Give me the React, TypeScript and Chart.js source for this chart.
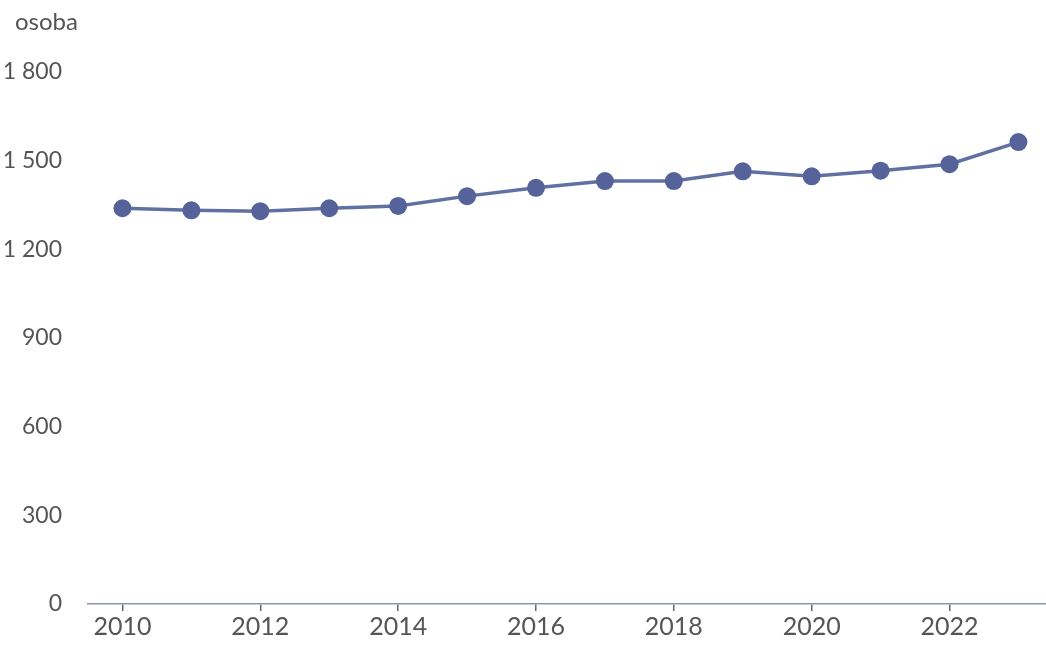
import React, { useEffect, useRef } from "react";
import { Chart, registerables } from "chart.js";

Chart.register(...registerables);

const years = [2010, 2011, 2012, 2013, 2014, 2015, 2016, 2017, 2018, 2019, 2020, 2021, 2022, 2023];
const persons = [1339, 1332, 1329, 1339, 1347, 1380, 1408, 1431, 1431, 1464, 1447, 1466, 1488, 1563];
const xTickYears = [2010, 2012, 2014, 2016, 2018, 2020, 2022];
const yTickValues = [0, 300, 600, 900, 1200, 1500, 1800];
const unitLabel = "osoba";

const fmt = (v: number) => String(v).replace(/\B(?=(\d{3})+(?!\d))/g, " ");

export default function App() {
  const ref = useRef<HTMLCanvasElement | null>(null);
  useEffect(() => {
    document.body.style.margin = "0";
    document.body.style.background = "#ffffff";
    const unitPlugin = {
      id: "unitLabel",
      afterDraw(chart: any) {
        const ctx = chart.ctx;
        ctx.save();
        ctx.font = "24px Lato";
        ctx.fillStyle = "#555555";
        ctx.textAlign = "left";
        ctx.textBaseline = "middle";
        ctx.fillText(unitLabel, 15, 22);
        ctx.restore();
      },
    };
    const chart = new Chart(ref.current as HTMLCanvasElement, {
      type: "line",
      data: {
        datasets: [
          {
            data: years.map((y, i) => ({ x: y, y: persons[i] })),
            borderColor: "#6170a3",
            backgroundColor: "#55639a",
            pointBackgroundColor: "#55639a",
            pointBorderColor: "#55639a",
            borderWidth: 3.5,
            pointRadius: 9,
            pointBorderWidth: 0,
            tension: 0,
          },
        ],
      },
      plugins: [unitPlugin],
      options: {
        animation: false,
        responsive: false,
        maintainAspectRatio: false,
        layout: { autoPadding: false, padding: { top: 72, left: 0, right: 0, bottom: 0 } },
        plugins: { legend: { display: false }, tooltip: { enabled: false }, title: { display: false } },
        scales: {
          x: {
            type: "linear",
            min: 2009.5,
            max: 2023.4,
            afterBuildTicks: (s: any) => {
              s.ticks = xTickYears.map((v) => ({ value: v }));
            },
            afterFit: (s: any) => {
              s.height = 42;
            },
            grid: { display: true, drawOnChartArea: false, drawTicks: true, tickLength: 7, color: "#666666", lineWidth: 1.5 },
            border: { display: true, color: "#8c96ab", width: 1.5, dash: [2, 1] },
            ticks: {
              padding: 1,
              color: "#555555",
              font: { family: "Lato", size: 25 },
              maxRotation: 0,
              autoSkip: false,
              callback: (v: any) => String(v),
            },
          },
          y: {
            min: 0,
            max: 1800,
            afterBuildTicks: (s: any) => {
              s.ticks = yTickValues.map((v) => ({ value: v }));
            },
            afterFit: (s: any) => {
              s.width = 88;
            },
            grid: { display: false },
            border: { display: false },
            ticks: {
              padding: 18,
              color: "#555555",
              font: { family: "Lato", size: 23 },
              callback: (v: any) => fmt(Number(v)),
            },
          },
        },
      },
    });
    return () => chart.destroy();
  }, []);
  return (
    <div style={{ width: 1046, height: 646, position: "relative" }}>
      <canvas ref={ref} width={1046} height={646} style={{ display: "block", width: 1046, height: 646 }} />
    </div>
  );
}
